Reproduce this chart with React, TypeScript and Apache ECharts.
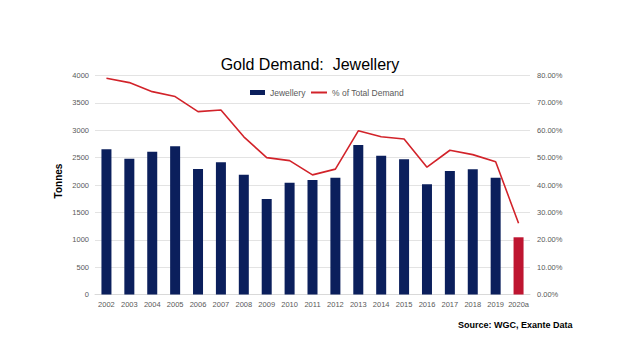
import React, { useEffect, useRef } from "react";
import * as echarts from "echarts";

const years = ["2002","2003","2004","2005","2006","2007","2008","2009","2010","2011","2012","2013","2014","2015","2016","2017","2018","2019","2020a"];
const jewellery = [2652, 2480, 2608, 2707, 2292, 2415, 2188, 1744, 2042, 2091, 2133, 2730, 2535, 2469, 2012, 2256, 2287, 2133, 1045];
const pctTotal = [79.0, 77.4, 74.1, 72.3, 66.8, 67.4, 57.6, 50.0, 48.9, 43.7, 45.8, 59.8, 57.6, 56.8, 46.5, 52.7, 51.1, 48.5, 26.0];
const leftTicks = [0, 500, 1000, 1500, 2000, 2500, 3000, 3500, 4000];
const rightTicks = [0, 10, 20, 30, 40, 50, 60, 70, 80];

const NAVY = "#0b1f5c";
const RED = "#d2232a";
const RED_BAR = "#be1530";
const FONT = "Liberation Sans";

export default function App() {
  const ref = useRef<HTMLDivElement>(null);
  useEffect(() => {
    const chart = echarts.init(ref.current!, null, { renderer: "svg" });
    chart.setOption({
      animation: false,
      backgroundColor: "#ffffff",
      textStyle: { fontFamily: FONT },
      title: {
        text: "Gold Demand:  Jewellery",
        left: "center",
        top: 51,
        textStyle: { fontFamily: FONT, fontSize: 16, fontWeight: "normal", color: "#000000" },
      },
      legend: [
        {
          top: 83,
          left: 245,
          itemWidth: 15,
          itemHeight: 5,
          textStyle: { fontFamily: FONT, fontSize: 8.5, color: "#595959" },
          data: [{ name: "Jewellery", icon: "rect" }],
        },
        {
          top: 83,
          left: 306,
          itemWidth: 16,
          itemHeight: 2,
          textStyle: { fontFamily: FONT, fontSize: 8.5, color: "#595959" },
          data: [{ name: "% of Total Demand", icon: "rect" }],
        },
      ],
      graphic: [
        {
          type: "text",
          left: 458,
          top: 320,
          style: { text: "Source: WGC, Exante Data", font: `bold 9px ${FONT}`, fill: "#000000" },
        },
        {
          type: "text",
          x: 58,
          y: 181,
          rotation: Math.PI / 2,
          style: {
            text: "Tonnes",
            font: `bold 10px ${FONT}`,
            fill: "#000000",
            align: "center",
            verticalAlign: "middle",
          },
        },
      ],
      grid: { left: 95, right: 90, top: 75.5, bottom: 54.5 },
      xAxis: {
        type: "category",
        data: years,
        axisTick: { show: false },
        axisLine: { lineStyle: { color: "#d9d9d9" } },
        axisLabel: { fontFamily: FONT, fontSize: 7.5, color: "#595959", margin: 6, interval: 0 },
      },
      yAxis: [
        {
          type: "value",
          min: leftTicks[0],
          max: leftTicks[leftTicks.length - 1],
          interval: 500,
          axisLabel: { fontFamily: FONT, fontSize: 7.5, color: "#595959", margin: 6, formatter: (v: number) => String(v) },
          splitLine: { lineStyle: { color: "#e3e3e3" } },
          axisLine: { show: false },
          axisTick: { show: false },
        },
        {
          type: "value",
          min: rightTicks[0],
          max: rightTicks[rightTicks.length - 1],
          interval: 10,
          axisLabel: {
            fontFamily: FONT,
            fontSize: 7.5,
            color: "#595959",
            margin: 7,
            formatter: (v: number) => v.toFixed(2) + "%",
          },
          splitLine: { show: false },
          axisLine: { show: false },
          axisTick: { show: false },
        },
      ],
      series: [
        {
          name: "Jewellery",
          type: "bar",
          barWidth: 10,
          itemStyle: { color: NAVY },
          data: jewellery.map((v, i) =>
            i === jewellery.length - 1 ? { value: v, itemStyle: { color: RED_BAR } } : v
          ),
        },
        {
          name: "% of Total Demand",
          type: "line",
          yAxisIndex: 1,
          symbol: "none",
          itemStyle: { color: RED },
          lineStyle: { color: RED, width: 1.6 },
          data: pctTotal,
        },
      ],
    });
    return () => chart.dispose();
  }, []);
  return (
    <div
      ref={ref}
      style={{ position: "fixed", left: 0, top: 0, width: 620, height: 349 }}
    />
  );
}
